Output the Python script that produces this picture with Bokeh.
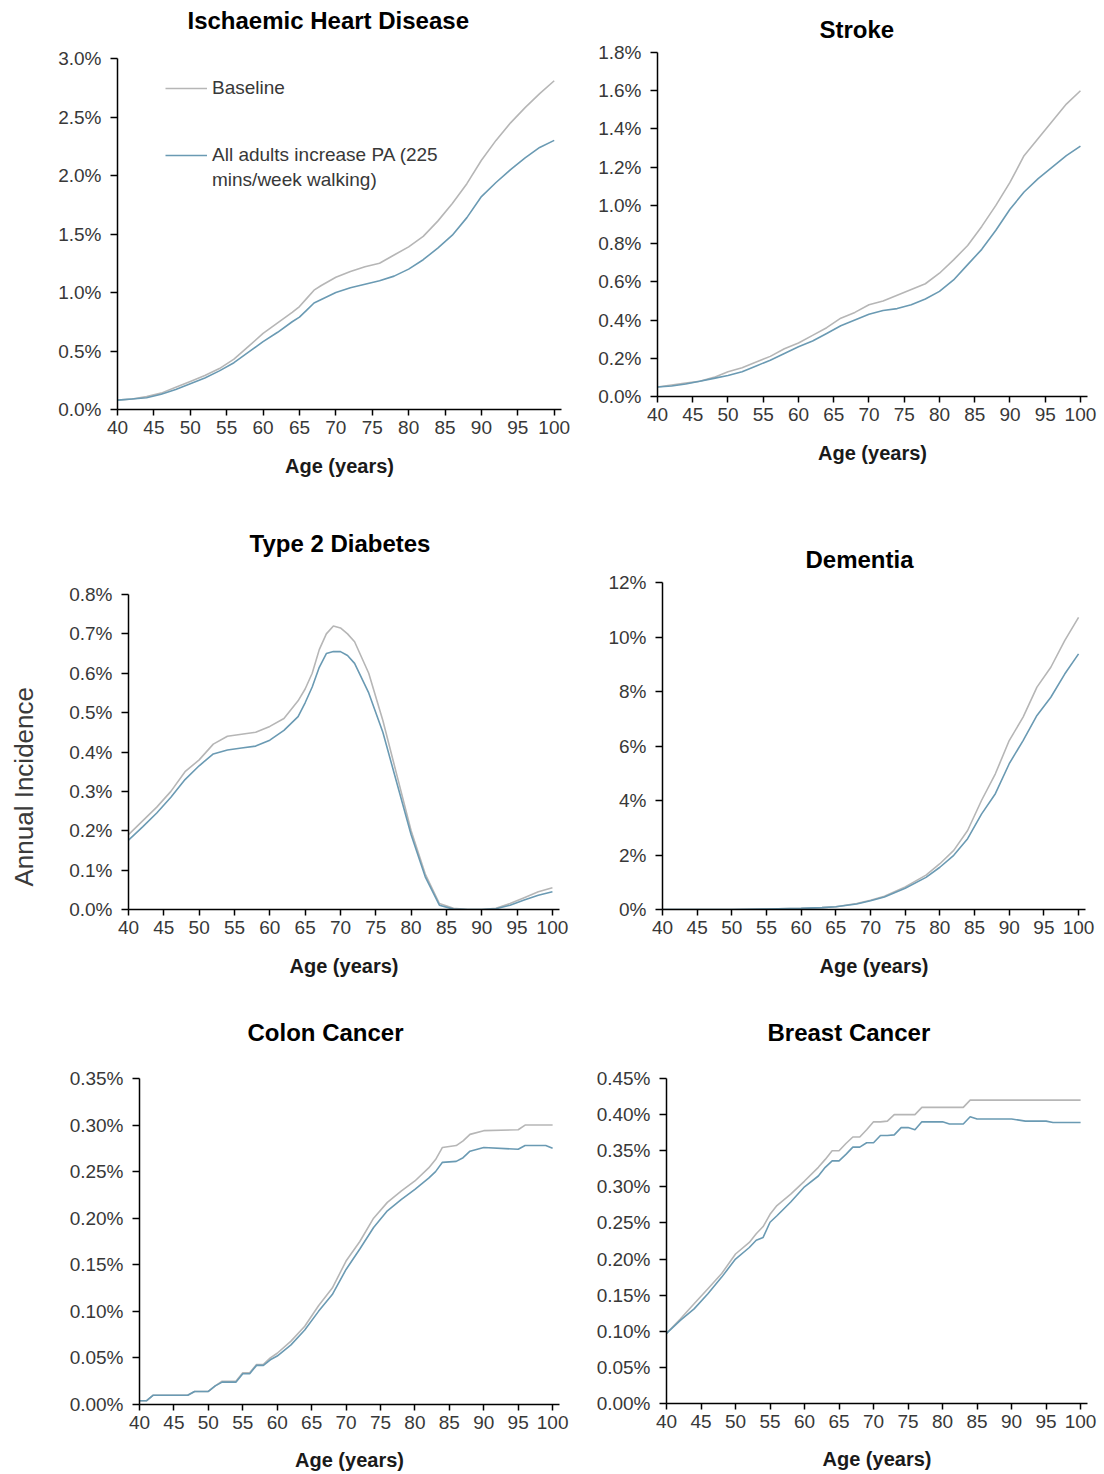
from bokeh.plotting import figure
from bokeh.layouts import column, row
from bokeh.models import FixedTicker, PrintfTickFormatter, Range1d, Legend, LegendItem, Title
from bokeh.embed import file_html
from bokeh.resources import INLINE

# ---------------- data (annual incidence, %) ----------------
x_ticks = [40, 45, 50, 55, 60, 65, 70, 75, 80, 85, 90, 95, 100]
legend_lines = ["Baseline", "All adults increase PA (225", "mins/week walking)"]

ihd_age = [40, 42, 44, 46, 48, 50, 52, 54, 56, 58, 60, 62, 64, 65, 66, 67, 68, 70, 72, 74, 76, 78,
           80, 82, 84, 86, 88, 90, 92, 94, 96, 98, 100]
ihd_base = [0.08, 0.09, 0.11, 0.14, 0.19, 0.24, 0.29, 0.35, 0.43, 0.54, 0.65, 0.74, 0.83, 0.88, 0.95,
            1.02, 1.06, 1.13, 1.18, 1.22, 1.25, 1.32, 1.39, 1.48, 1.61, 1.76, 1.93, 2.13, 2.30, 2.45,
            2.58, 2.70, 2.81]
ihd_pa = [0.08, 0.09, 0.10, 0.13, 0.17, 0.22, 0.27, 0.33, 0.40, 0.49, 0.58, 0.66, 0.75, 0.79, 0.85,
          0.91, 0.94, 1.00, 1.04, 1.07, 1.10, 1.14, 1.20, 1.28, 1.38, 1.49, 1.64, 1.82, 1.94, 2.05,
          2.15, 2.24, 2.30]
ihd_yticks = [0.0, 0.5, 1.0, 1.5, 2.0, 2.5, 3.0]

stroke_age = [40, 42, 44, 46, 48, 50, 52, 54, 56, 58, 60, 62, 64, 66, 68, 70, 72, 74, 76, 78, 80, 82,
              84, 86, 88, 90, 92, 94, 96, 98, 100]
stroke_base = [0.05, 0.06, 0.07, 0.08, 0.10, 0.13, 0.15, 0.18, 0.21, 0.25, 0.28, 0.32, 0.36, 0.41,
               0.44, 0.48, 0.50, 0.53, 0.56, 0.59, 0.645, 0.715, 0.79, 0.89, 1.00, 1.12, 1.26, 1.35,
               1.44, 1.53, 1.60]
stroke_pa = [0.05, 0.055, 0.065, 0.08, 0.095, 0.11, 0.13, 0.16, 0.19, 0.225, 0.26, 0.29, 0.33, 0.37,
             0.40, 0.43, 0.45, 0.46, 0.48, 0.51, 0.55, 0.61, 0.69, 0.77, 0.87, 0.98, 1.07, 1.14,
             1.20, 1.26, 1.31]
stroke_yticks = [0.0, 0.2, 0.4, 0.6, 0.8, 1.0, 1.2, 1.4, 1.6, 1.8]

t2d_age = [40, 42, 44, 46, 48, 50, 52, 54, 56, 58, 60, 62, 64, 65, 66, 67, 68, 69, 70, 71, 72, 74, 76,
           78, 80, 82, 84, 86, 88, 90, 92, 94, 96, 98, 100]
t2d_base = [0.19, 0.225, 0.26, 0.30, 0.35, 0.38, 0.42, 0.44, 0.445, 0.45, 0.465, 0.485, 0.53, 0.56,
            0.60, 0.66, 0.70, 0.72, 0.715, 0.70, 0.68, 0.60, 0.48, 0.34, 0.20, 0.09, 0.015, 0.003,
            0.0, 0.0, 0.003, 0.015, 0.03, 0.045, 0.055]
t2d_pa = [0.176, 0.21, 0.245, 0.285, 0.33, 0.365, 0.395, 0.405, 0.41, 0.415, 0.43, 0.455, 0.49,
          0.525, 0.565, 0.615, 0.65, 0.655, 0.655, 0.645, 0.625, 0.55, 0.45, 0.32, 0.19, 0.083,
          0.011, 0.001, 0.0, 0.0, 0.002, 0.011, 0.024, 0.036, 0.045]
t2d_yticks = [0.0, 0.1, 0.2, 0.3, 0.4, 0.5, 0.6, 0.7, 0.8]

dem_age = [40, 45, 50, 55, 60, 63, 65, 68, 70, 72, 75, 78, 80, 82, 84, 86, 88, 90, 92, 94, 96, 98, 100]
dem_base = [0.0, 0.0, 0.0, 0.02, 0.04, 0.07, 0.10, 0.22, 0.34, 0.49, 0.83, 1.26, 1.68, 2.17, 2.90,
            4.00, 4.98, 6.20, 7.06, 8.16, 8.89, 9.87, 10.72]
dem_pa = [0.0, 0.0, 0.0, 0.02, 0.04, 0.07, 0.10, 0.20, 0.32, 0.46, 0.78, 1.18, 1.55, 1.99, 2.60,
          3.50, 4.25, 5.35, 6.20, 7.12, 7.79, 8.64, 9.38]
dem_yticks = [0, 2, 4, 6, 8, 10, 12]

colon_age = [40, 41, 42, 43, 47, 48, 50, 51, 52, 54, 55, 56, 57, 58, 59, 60, 62, 64, 66, 68, 70, 72,
             74, 76, 78, 80, 82, 83, 84, 86, 87, 88, 90, 95, 96, 99, 100]
colon_base = [0.004, 0.004, 0.010, 0.010, 0.010, 0.014, 0.014, 0.020, 0.025, 0.025, 0.034, 0.034,
              0.043, 0.043, 0.050, 0.055, 0.068, 0.084, 0.106, 0.125, 0.154, 0.175, 0.200, 0.217,
              0.229, 0.240, 0.254, 0.263, 0.276, 0.278, 0.283, 0.290, 0.294, 0.295, 0.300, 0.300,
              0.300]
colon_pa = [0.004, 0.004, 0.010, 0.010, 0.010, 0.014, 0.014, 0.020, 0.024, 0.024, 0.033, 0.033,
            0.042, 0.042, 0.048, 0.052, 0.064, 0.080, 0.100, 0.118, 0.145, 0.167, 0.190, 0.208,
            0.220, 0.231, 0.243, 0.250, 0.260, 0.261, 0.265, 0.272, 0.276, 0.274, 0.278, 0.278,
            0.275]
colon_yticks = [0.0, 0.05, 0.10, 0.15, 0.20, 0.25, 0.30, 0.35]

breast_age = [40, 42, 44, 46, 48, 50, 52, 53, 54, 55, 56, 58, 60, 62, 63, 64, 65, 66, 67, 68, 69, 70,
              71, 72, 73, 74, 75, 76, 77, 80, 81, 83, 84, 85, 90, 92, 95, 96, 100]
breast_base = [0.097, 0.117, 0.138, 0.159, 0.180, 0.207, 0.223, 0.235, 0.245, 0.262, 0.274, 0.290,
               0.308, 0.327, 0.338, 0.350, 0.350, 0.360, 0.369, 0.369, 0.379, 0.390, 0.390, 0.391,
               0.400, 0.400, 0.400, 0.400, 0.410, 0.410, 0.410, 0.410, 0.420, 0.420, 0.420, 0.420,
               0.420, 0.420, 0.420]
breast_pa = [0.097, 0.115, 0.131, 0.152, 0.175, 0.200, 0.216, 0.226, 0.230, 0.251, 0.260, 0.279,
             0.300, 0.315, 0.327, 0.336, 0.336, 0.345, 0.355, 0.355, 0.361, 0.361, 0.371, 0.371,
             0.372, 0.382, 0.382, 0.379, 0.390, 0.390, 0.387, 0.387, 0.397, 0.394, 0.394, 0.391,
             0.391, 0.389, 0.389]
breast_yticks = [0.0, 0.05, 0.10, 0.15, 0.20, 0.25, 0.30, 0.35, 0.40, 0.45]

# ---------------- style ----------------
GRAY = "#b6b6b6"
BLUE = "#6a9ab3"
FONT = "Liberation Sans"
TICK_COLOR = "#383838"


def make_panel(ages, base, pa, yticks, fmt, size, borders, title, title_offset, title_gap,
               xlab_standoff=18):
    w, h = size
    bl, br, bt, bb = borders
    p = figure(width=w, height=h, output_backend="svg", toolbar_location=None,
               x_range=Range1d(40, 101), y_range=Range1d(yticks[0], yticks[-1]),
               min_border_left=bl, min_border_right=br, min_border_top=bt, min_border_bottom=bb)
    p.frame_align = False
    p.outline_line_color = None
    p.grid.visible = False
    p.background_fill_color = "white"
    p.border_fill_color = "white"
    r1 = p.line(ages, base, line_color=GRAY, line_width=1.6)
    r2 = p.line(ages, pa, line_color=BLUE, line_width=1.6)

    # invisible spacer panel between frame and title, then the title itself
    p.add_layout(Title(text=" ", text_font_size="1px", standoff=title_gap), "above")
    p.add_layout(Title(text=title, align="left", offset=title_offset, standoff=2,
                       text_font=FONT, text_font_style="bold", text_font_size="24px",
                       text_color="black"), "above")

    for ax in (p.xaxis[0], p.yaxis[0]):
        ax.axis_line_color = "black"
        ax.axis_line_width = 1.5
        ax.major_tick_line_color = "black"
        ax.major_tick_line_width = 1.5
        ax.minor_tick_line_color = None
        ax.major_tick_in = 0
        ax.major_label_text_font = FONT
        ax.major_label_text_font_size = "19px"
        ax.major_label_text_color = TICK_COLOR

    xa = p.xaxis[0]
    xa.ticker = FixedTicker(ticks=x_ticks)
    xa.major_tick_out = 6
    xa.major_label_standoff = 5
    xa.axis_label = "Age (years)"
    xa.axis_label_text_font = FONT
    xa.axis_label_text_font_style = "bold"
    xa.axis_label_text_font_size = "20px"
    xa.axis_label_text_color = "#1a1a1a"
    xa.axis_label_standoff = xlab_standoff

    ya = p.yaxis[0]
    ya.ticker = FixedTicker(ticks=yticks)
    ya.formatter = PrintfTickFormatter(format=fmt)
    ya.major_tick_out = 7
    ya.major_label_standoff = 9
    return p, r1, r2


LEFT_W, RIGHT_W = 590, 514
ROW_H = [500, 490, 484]
CAP_W = 56   # width of the strip holding the shared y caption

p1, b1, a1 = make_panel(ihd_age, ihd_base, ihd_pa, ihd_yticks, "%.1f%%", (LEFT_W, ROW_H[0]),
                        (117, 29, 58, 91), "Ischaemic Heart Disease", 70, 21)
p2, _, _ = make_panel(stroke_age, stroke_base, stroke_pa, stroke_yticks, "%.1f%%", (RIGHT_W, ROW_H[0]),
                      (67, 17, 52, 104), "Stroke", 162, 6)
p3, _, _ = make_panel(t2d_age, t2d_base, t2d_pa, t2d_yticks, "%.1f%%", (LEFT_W - CAP_W, ROW_H[1]),
                      (128 - CAP_W, 31, 94, 81), "Type 2 Diabetes", 121, 34)
p4, _, _ = make_panel(dem_age, dem_base, dem_pa, dem_yticks, "%d%%", (RIGHT_W, ROW_H[1]),
                      (72, 19, 82, 81), "Dementia", 143, 6)
p5, _, _ = make_panel(colon_age, colon_base, colon_pa, colon_yticks, "%.2f%%", (LEFT_W, ROW_H[2]),
                      (139, 31, 88, 70), "Colon Cancer", 108, 29, xlab_standoff=17)
p6, _, _ = make_panel(breast_age, breast_base, breast_pa, breast_yticks, "%.2f%%", (RIGHT_W, ROW_H[2]),
                      (76, 17, 88, 71), "Breast Cancer", 101, 29, xlab_standoff=17)

# shared y-axis caption in a narrow strip left of the middle-left panel
cap = figure(width=CAP_W, height=ROW_H[1], output_backend="svg", toolbar_location=None,
             x_axis_location=None, y_axis_location=None, min_border=0)
cap.frame_align = False
cap.outline_line_color = None
cap.grid.visible = False
cap.background_fill_color = "white"
cap.border_fill_color = "white"
cap.add_layout(Title(text="Annual Incidence", align="left", offset=104, standoff=13,
                     text_font=FONT, text_font_style="normal", text_font_size="26px",
                     text_color="#3a3a3a"), "left")

# legend in first panel (two blocks so the swatch sits on the first text line)
common = dict(orientation="vertical", glyph_width=42, glyph_height=20, label_standoff=5,
              padding=0, margin=0, border_line_color=None, background_fill_alpha=0,
              label_text_font=FONT, label_text_font_size="19px", label_text_color=TICK_COLOR)
legend_a = Legend(items=[LegendItem(label=legend_lines[0], renderers=[b1])],
                  location=(48, 409 - 99), spacing=0, **common)
legend_b = Legend(items=[LegendItem(label=legend_lines[1], renderers=[a1]),
                         LegendItem(label=legend_lines[2], renderers=[])],
                  location=(48, 409 - 191), spacing=3, **common)
p1.add_layout(legend_a, "center")
p1.add_layout(legend_b, "center")

layout = column(row(p1, p2), row(cap, p3, p4), row(p5, p6))
open("out.html", "w").write(file_html(layout, INLINE))
